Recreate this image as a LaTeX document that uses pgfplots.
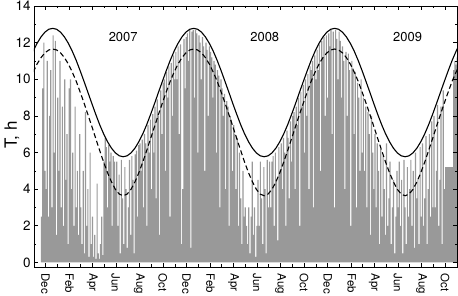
\documentclass[border=0pt]{standalone}
\usepackage{fontspec}
\setmainfont{TeX Gyre Heros}
\usepackage{pgfplots}
\pgfplotsset{compat=1.18}
\usepackage{pgfplotstable}

% envelope curves: d = days since 1 Nov 2006, S = solid, D = dashed
\pgfplotstableread{
d S D
-2.2 11.53 10.39
7.9 11.96 10.83
18.1 12.31 11.18
28.2 12.57 11.44
38.4 12.73 11.60
48.5 12.78 11.65
58.6 12.73 11.60
68.8 12.57 11.44
78.9 12.31 11.18
89.1 11.96 10.83
99.2 11.53 10.39
109.4 11.03 9.89
119.5 10.47 9.31
129.7 9.88 8.70
139.8 9.28 8.07
150.0 8.67 7.42
160.1 8.08 6.76
170.2 7.52 6.11
180.4 7.02 5.48
190.5 6.59 4.90
200.7 6.24 4.40
210.8 5.98 3.99
221.0 5.82 3.73
231.1 5.77 3.64
241.3 5.82 3.73
251.4 5.98 3.99
261.6 6.24 4.40
271.7 6.59 4.90
281.9 7.02 5.48
292.0 7.52 6.11
302.1 8.08 6.76
312.3 8.67 7.42
322.4 9.28 8.07
332.6 9.88 8.70
342.7 10.47 9.31
352.9 11.03 9.89
363.0 11.53 10.39
373.2 11.96 10.83
383.3 12.31 11.18
393.5 12.57 11.44
403.6 12.73 11.60
413.8 12.78 11.65
423.9 12.73 11.60
434.0 12.57 11.44
444.2 12.31 11.18
454.3 11.96 10.83
464.5 11.53 10.39
474.6 11.03 9.89
484.8 10.47 9.31
494.9 9.88 8.70
505.1 9.28 8.07
515.2 8.67 7.42
525.4 8.08 6.76
535.5 7.52 6.11
545.6 7.02 5.48
555.8 6.59 4.90
565.9 6.24 4.40
576.1 5.98 3.99
586.2 5.82 3.73
596.4 5.77 3.64
606.5 5.82 3.73
616.7 5.98 3.99
626.8 6.24 4.40
637.0 6.59 4.90
647.1 7.02 5.48
657.3 7.52 6.11
667.4 8.08 6.76
677.6 8.67 7.42
687.7 9.28 8.07
697.9 9.88 8.70
708.0 10.47 9.31
718.1 11.03 9.89
728.3 11.53 10.39
738.4 11.96 10.83
748.6 12.31 11.18
758.7 12.57 11.44
768.9 12.73 11.60
779.0 12.78 11.65
789.2 12.73 11.60
799.3 12.57 11.44
809.5 12.31 11.18
819.6 11.96 10.83
829.8 11.53 10.39
839.9 11.03 9.89
850.1 10.47 9.31
860.2 9.88 8.70
870.4 9.28 8.07
880.5 8.67 7.42
890.6 8.08 6.76
900.8 7.52 6.11
910.9 7.02 5.48
921.1 6.59 4.90
931.2 6.24 4.40
941.4 5.98 3.99
951.5 5.82 3.73
961.6 5.77 3.64
971.8 5.82 3.73
981.9 5.98 3.99
992.1 6.24 4.40
1002.2 6.59 4.90
1012.4 7.02 5.48
1022.5 7.52 6.11
1032.7 8.08 6.76
1042.8 8.67 7.42
1053.0 9.28 8.07
1063.1 9.88 8.70
1073.3 10.47 9.31
1083.4 11.03 9.89
1093.6 11.53 10.39
1103.7 11.96 10.83
}\curves

% sunshine duration, 3-day steps starting 19 Nov 2006 (day 18)
\pgfplotstableread[row sep=\\]{
T\\
2.5\\ 9.5\\ 12.0\\ 5\\
4\\ 11\\ 2.5\\ 8\\ 10.5\\ 3\\ 12.4\\ 6\\ 12.1\\ 1.5\\ 9\\
5\\ 11\\ 3\\ 8.5\\ 2\\ 10\\ 4.5\\ 7\\ 1\\ 9.5\\
10\\ 4\\ 6\\ 2\\ 8.5\\ 3\\ 5\\ 1.5\\ 7\\
3\\ 1\\ 5\\ 0.5\\ 8.2\\ 2\\ 4\\ 0.3\\ 6\\ 1\\ 2.5\\
0.3\\ 1.5\\ 0.2\\ 4.3\\ 0.5\\ 0.2\\ 1\\ 2.5\\ 0.4\\ 5.5\\
6.8\\ 6.3\\ 3\\ 6.4\\ 5.5\\ 6\\ 2\\ 5.8\\ 5.5\\ 4\\
5.5\\ 2\\ 4.8\\ 0.5\\ 5.6\\ 3.5\\ 1\\ 5.2\\ 4\\ 0.8\\
3\\ 5.6\\ 1.5\\ 5.8\\ 4.5\\ 0.5\\ 5.9\\ 6.1\\ 2.5\\ 6.4\\
6.5\\ 5\\ 6.7\\ 3\\ 7.0\\ 6.5\\ 2\\ 7.5\\ 6\\ 7.8\\ 4\\
8.1\\ 6\\ 8.5\\ 3.5\\ 8.9\\ 8\\ 1.5\\ 9.4\\ 7\\ 9.8\\
10\\ 5\\ 10.4\\ 9\\ 10.7\\ 2.5\\ 10.9\\ 8\\ 11.3\\ 10\\
11.5\\ 10\\ 11.8\\ 7\\ 11.9\\ 1\\ 4\\ 12.2\\ 9.5\\ 12.3\\
12.5\\ 11\\ 12.7\\ 0.8\\ 12.6\\ 12.7\\ 9\\ 12.7\\ 12.5\\ 6\\
12.4\\ 12\\ 10\\ 12.3\\ 11.8\\ 5\\ 12\\ 11.6\\ 8\\ 11.8\\ 11.5\\
11.2\\ 9\\ 11\\ 10.8\\ 6\\ 10.5\\ 10.2\\ 3\\ 10\\
9.5\\ 8\\ 9.2\\ 4\\ 8.8\\ 8.5\\ 2\\ 8\\ 7.8\\ 5\\ 7.5\\
7\\ 4\\ 6.8\\ 2\\ 6\\ 3.5\\ 1\\ 5\\ 2.5\\ 3\\
2\\ 1\\ 3\\ 0.5\\ 2.5\\ 5.5\\ 1.5\\ 3\\ 0.3\\ 2\\
4.5\\ 2\\ 5.5\\ 3.5\\ 1\\ 5.2\\ 4\\ 0.5\\ 5.6\\ 3\\
5.5\\ 3\\ 5.5\\ 5.8\\ 2\\ 6\\ 4.5\\ 1.2\\ 6.3\\ 5\\
6.5\\ 4\\ 6.8\\ 6\\ 2\\ 7.2\\ 6.8\\ 3.5\\ 7.7\\ 5.5\\ 8.0\\
8.2\\ 4\\ 8.5\\ 7.5\\ 9\\ 2\\ 9.3\\ 8.5\\ 9.7\\ 6\\
10\\ 8\\ 10.3\\ 4\\ 10.7\\ 10.5\\ 11\\ 3\\ 11.3\\ 10\\
11.6\\ 10.5\\ 11.9\\ 5\\ 12.1\\ 11.2\\ 12.3\\ 8\\ 12.4\\ 9\\
12.5\\ 11.8\\ 12.7\\ 7\\ 12.6\\ 3\\ 12.7\\ 12.2\\ 10\\ 12.6\\
12.1\\ 9\\ 11.8\\ 11\\ 4\\ 11.5\\ 8\\ 11.4\\ 10.5\\ 2\\ 11\\
10.6\\ 7\\ 10.4\\ 3\\ 9.8\\ 9\\ 5\\ 10\\ 6\\
9\\ 5\\ 8.5\\ 3\\ 8.2\\ 7\\ 1.5\\ 8\\ 6\\ 4\\
7\\ 3\\ 6.5\\ 5\\ 1\\ 6.2\\ 2.5\\ 5.8\\ 4\\ 1.5\\
6.5\\ 2\\ 3.5\\ 5.5\\ 1\\ 3\\ 4.5\\ 0.5\\ 2.5\\ 5\\ 3\\
5.5\\ 2\\ 4.5\\ 0.5\\ 5.6\\ 3\\ 1\\ 5.2\\ 2.5\\ 4\\
5.6\\ 2\\ 5\\ 0.8\\ 6\\ 3.5\\ 4.5\\ 1\\ 6.3\\ 2.5\\
6.5\\ 2\\ 3.5\\ 6.9\\ 1\\ 4\\ 7\\ 2.5\\ 7.7\\ 3\\
8\\ 3\\ 5\\ 8.6\\ 2\\ 4.5\\ 8.5\\ 1\\ 9.4\\ 4\\
5.2\\ 5.2\\ 5.2\\ 5.2\\ 5.2\\ 5.2\\ 5.2\\ 10.5\\ 11\\ 10.8\\ 11.2\\
11.2\\
}\sun

\begin{document}
\begin{tikzpicture}
\useasboundingbox (-34bp,-29bp) rectangle (424bp,267bp);
\begin{axis}[
  at={(0,0)}, anchor=south west,
  scale only axis, width=423bp, height=261bp,
  xmin=0, xmax=1096, ymin=-0.25, ymax=14,
  axis on top,
  axis line style={line width=0.8bp},
  xtick={30,92,151,212,273,334,395,457,517,578,639,700,761,823,882,943,1004,1065},
  xticklabels={Dec,Feb,Apr,Jun,Aug,Oct,Dec,Feb,Apr,Jun,Aug,Oct,Dec,Feb,Apr,Jun,Aug,Oct},
  minor xtick={61,120,181,242,304,365,426,486,547,608,670,731,792,851,912,973,1035},
  ytick={0,2,...,14}, minor ytick={1,3,...,13},
  xticklabel style={rotate=-90, anchor=west, font=\fontsize{11.5}{12}\selectfont},
  xticklabel shift=3bp,
  yticklabel style={font=\fontsize{13.5}{14}\selectfont},
  /pgf/number format/assume math mode=true,
  tick align=inside, xtick pos=both, ytick pos=both,
  major tick length=4bp, minor tick length=2.5bp,
  tick style={line width=0.6bp, black},
  ylabel={T, h},
  ylabel style={at={(axis description cs:-0.052,0.506)}, anchor=center, font=\fontsize{17}{17}\selectfont},
]
\addplot[const plot, fill=black!40, draw=none] table[x expr=18+3*\coordindex, y=T] {\sun} \closedcycle;
\addplot[black, line width=1.1bp] table[x=d, y=S] {\curves};
\addplot[black, line width=1.1bp, dash pattern=on 5bp off 3bp] table[x=d, y=D] {\curves};
\node[font=\fontsize{13}{13}\selectfont] at (axis cs:231,12.28) {2007};
\node[font=\fontsize{13}{13}\selectfont] at (axis cs:598,12.28) {2008};
\node[font=\fontsize{13}{13}\selectfont] at (axis cs:968,12.28) {2009};
\end{axis}
\end{tikzpicture}
\end{document}
